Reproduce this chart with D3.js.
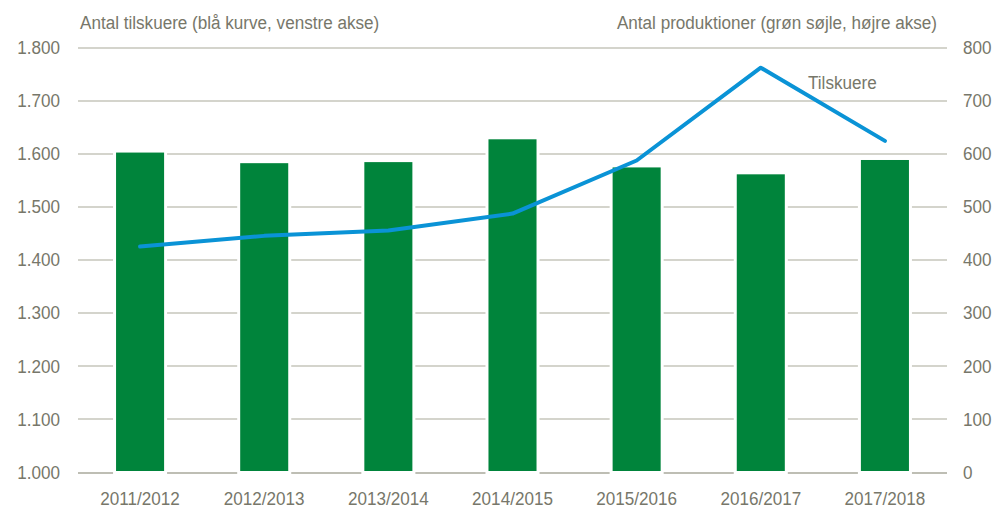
<!DOCTYPE html>
<html>
<head>
<meta charset="utf-8">
<script src="https://cdn.jsdelivr.net/npm/d3@7"></script>
<style>
  body { margin: 0; background: #fff; }
  text { font-family: "Liberation Sans", Arial, sans-serif; fill: #77776a; }
</style>
</head>
<body>
<div id="vis-container"></div>
<script>
// seasons on the x axis
const seasons = ["2011/2012", "2012/2013", "2013/2014", "2014/2015", "2015/2016", "2016/2017", "2017/2018"];
// green bars, right axis
const productions = [602, 582, 584, 627, 574, 561, 588];
// blue line, left axis (thousands)
const viewers = [1425, 1445, 1455, 1487, 1587, 1762, 1624];
const leftTicks = [1000, 1100, 1200, 1300, 1400, 1500, 1600, 1700, 1800];
const rightTicks = [0, 100, 200, 300, 400, 500, 600, 700, 800];

let width = 1003, height = 509;
let margins = { top: 47.5, right: 56, bottom: 37, left: 78 };
let visWidth = width - margins.left - margins.right;
let visHeight = height - margins.top - margins.bottom;

const da = d3.formatLocale({ decimal: ",", thousands: ".", grouping: [3], currency: ["", " kr."] });
const fmt = da.format(",");

var svg = d3.select("#vis-container").append("svg")
    .attr("width", width)
    .attr("height", height);

let viewport = svg.append("g")
    .attr("transform", "translate(" + margins.left + "," + margins.top + ")");

// the original font is a bit condensed, so squeeze text horizontally
function label(sel, px, py, size) {
    return sel.append("text")
        .attr("transform", "translate(" + px + "," + py + ") scale(0.9,1)")
        .style("font-size", size + "px");
}

let x = d3.scaleBand().domain(seasons).range([0, visWidth]).paddingInner(0.613).paddingOuter(0.3065);
let yLeft = d3.scaleLinear().domain([1000, 1800]).range([visHeight, 0]);
let yRight = d3.scaleLinear().domain([0, 800]).range([visHeight, 0]);

// gridlines
viewport.append("g").selectAll("line")
    .data(leftTicks).enter().append("line")
    .attr("x1", 0).attr("x2", visWidth)
    .attr("y1", d => Math.round(yLeft(d)) + 0.5).attr("y2", d => Math.round(yLeft(d)) + 0.5)
    .attr("stroke", d => d == 1000 ? "#a9a99b" : "#c6c6bb")
    .attr("stroke-width", 1.3);

// bars with a white halo so gridlines break around them
viewport.append("g").selectAll("rect")
    .data(seasons).enter().append("rect")
    .attr("x", d => x(d))
    .attr("width", x.bandwidth())
    .attr("y", (d, i) => yRight(productions[i]))
    .attr("height", (d, i) => visHeight - yRight(productions[i]) - 1)
    .attr("fill", "#00843b")
    .attr("stroke", "#fff")
    .attr("stroke-width", 6)
    .style("paint-order", "stroke");

// line
viewport.append("path")
    .datum(seasons)
    .attr("fill", "none")
    .attr("stroke", "#0a93d6")
    .attr("stroke-width", 4)
    .attr("stroke-linecap", "round")
    .attr("stroke-linejoin", "round")
    .attr("d", d3.line()
        .x(d => x(d) + x.bandwidth() / 2)
        .y((d, i) => yLeft(viewers[i])));

// left axis labels
let leftG = viewport.append("g");
leftTicks.forEach(d => {
    label(leftG, -18, yLeft(d), 19)
        .attr("dy", "0.35em")
        .attr("text-anchor", "end")
        .text(fmt(d));
});

// right axis labels
let rightG = viewport.append("g");
rightTicks.forEach(d => {
    label(rightG, visWidth + 16, yRight(d), 19)
        .attr("dy", "0.35em")
        .attr("text-anchor", "start")
        .text(fmt(d));
});

// category labels
let catG = viewport.append("g");
seasons.forEach(d => {
    label(catG, x(d) + x.bandwidth() / 2, visHeight + 33, 19)
        .attr("text-anchor", "middle")
        .text(d);
});

// titles
label(svg, 80, 29, 19).text("Antal tilskuere (blå kurve, venstre akse)");
label(svg, 937, 29, 19).attr("text-anchor", "end").text("Antal produktioner (grøn søjle, højre akse)");
label(svg, 808, 89, 19).text("Tilskuere");
</script>
</body>
</html>
